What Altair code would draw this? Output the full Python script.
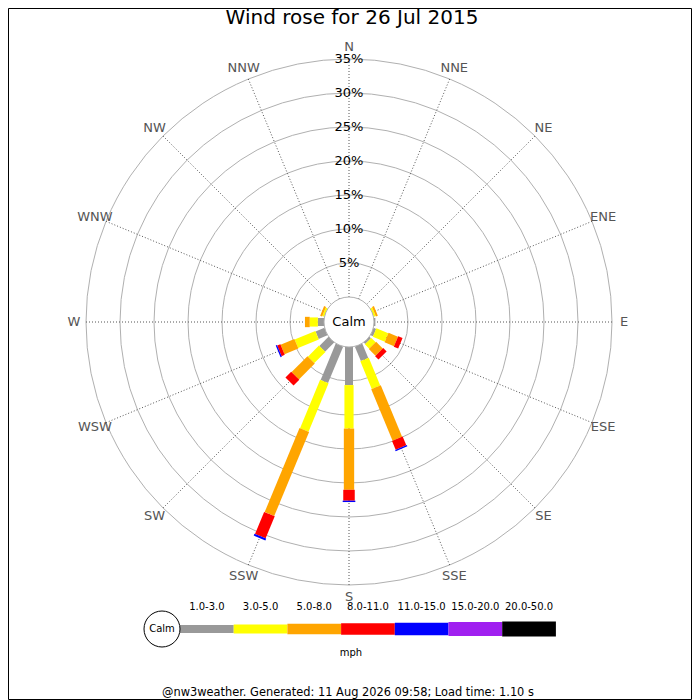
import math
import altair as alt
import pandas as pd

directions = ["N", "NNE", "NE", "ENE", "E", "ESE", "SE", "SSE",
              "S", "SSW", "SW", "WSW", "W", "WNW", "NW", "NNW"]
speed_bins = ["1.0-3.0", "3.0-5.0", "5.0-8.0", "8.0-11.0",
              "11.0-15.0", "15.0-20.0", "20.0-50.0"]

# % of the day in each direction, one list per speed bin (mph)
pct_1_3 = [0, 0, 0, 0, 0.2, 0.4, 0.3, 2.3, 5.6, 5.8, 1.9, 1.4, 0.9, 0, 0, 0]
pct_3_5 = [0, 0, 0, 0.3, 0, 1.9, 0.9, 4.4, 6.4, 7.7, 2.3, 3.3, 1.2, 0.3, 0, 0]
pct_5_8 = [0, 0, 0, 0.3, 0, 1.5, 1.4, 8.2, 9.0, 13.4, 3.3, 2.2, 0.7, 0.3, 0, 0]
pct_8_11 = [0, 0, 0, 0, 0, 0.7, 0.7, 1.4, 1.6, 3.5, 1.2, 0.5, 0, 0, 0, 0]
pct_11_15 = [0, 0, 0, 0, 0, 0, 0, 0.2, 0.2, 0.3, 0, 0.2, 0, 0, 0, 0]
pct_15_20 = [0, 0, 0, 0, 0, 0, 0, 0, 0, 0, 0, 0, 0, 0, 0, 0]
pct_20_50 = [0, 0, 0, 0, 0, 0, 0, 0, 0, 0, 0, 0, 0, 0, 0, 0]

ring_pcts = [5, 10, 15, 20, 25, 30, 35]

title_text = "Wind rose for 26 Jul 2015"
footer_text = "@nw3weather. Generated: 11 Aug 2026 09:58; Load time: 1.10 s"

bin_colors = ["#999999", "#ffff00", "#ffa500", "#ff0000",
              "#0000ff", "#a020f0", "#000000"]
bin_widths = [8, 15, 20, 23, 26, 27, 29]

PX = 6.8            # pixels per percent
CALM = 25 / PX      # calm circle radius, in percent units
PAD_TOP = 4
W, H = 682, 620     # plot area, centred on the rose
FONT = "DejaVu Sans"
LAB_R = 275 / PX


def ux(px):
    return (px - W / 2) / PX


def uy(py):
    return (H / 2 - py) / PX


series = [pct_1_3, pct_3_5, pct_5_8, pct_8_11, pct_11_15, pct_15_20, pct_20_50]
rows = []
for i, d in enumerate(directions):
    cum = 0.0
    for b, s in zip(speed_bins, series):
        if s[i] > 0:
            rows.append({"dir": d, "idx": i, "bin": b, "start": cum, "end": cum + s[i]})
            cum += s[i]
segs = pd.DataFrame(rows)
dirs_df = pd.DataFrame({"dir": directions, "idx": list(range(len(directions)))})
rings_df = pd.DataFrame({"pct": ring_pcts, "label": [f"{p}%" for p in ring_pcts]})
legend_df = pd.DataFrame({"bin": speed_bins, "i": list(range(len(speed_bins)))})

xs = alt.Scale(domain=[-W / 2 / PX, W / 2 / PX], nice=False, zero=False)
ys = alt.Scale(domain=[-H / 2 / PX, H / 2 / PX], nice=False, zero=False)
rs = alt.Scale(type="linear", domain=[0, 50], range=[0, 50 * PX], zero=True, nice=False)
color_scale = alt.Scale(domain=speed_bins, range=bin_colors)
width_scale = alt.Scale(domain=speed_bins, range=bin_widths)

# grid rings
rings = alt.Chart(rings_df).transform_calculate(
    r=f"{CALM} + datum.pct"
).mark_arc(theta=0, theta2=2 * math.pi, fillOpacity=0, stroke="#b0b0b0", strokeWidth=1).encode(
    radius=alt.Radius("r:Q", scale=rs, stack=None)
)

# dotted spokes
spokes = alt.Chart(dirs_df).transform_calculate(
    a="datum.idx * PI / 8"
).transform_calculate(
    x0=f"{CALM} * sin(datum.a)", y0=f"{CALM} * cos(datum.a)",
    x1=f"{CALM + ring_pcts[-1]} * sin(datum.a)", y1=f"{CALM + ring_pcts[-1]} * cos(datum.a)",
).mark_rule(color="#555555", strokeDash=[1, 2], strokeWidth=1).encode(
    x=alt.X("x0:Q", scale=xs, axis=None),
    y=alt.Y("y0:Q", scale=ys, axis=None),
    x2="x1:Q", y2="y1:Q",
)

dir_labels = alt.Chart(dirs_df).transform_calculate(
    a="datum.idx * PI / 8"
).transform_calculate(
    lx=f"{LAB_R} * sin(datum.a)", ly=f"{LAB_R} * cos(datum.a)"
).mark_text(font=FONT, fontSize=13, color="#555555", align="center", baseline="middle").encode(
    x=alt.X("lx:Q", scale=xs, axis=None),
    y=alt.Y("ly:Q", scale=ys, axis=None),
    text="dir:N",
)

# stacked speed bars, drawn as thick rules
bars = alt.Chart(segs).transform_calculate(
    a="datum.idx * PI / 8"
).transform_calculate(
    x0=f"({CALM} + datum.start) * sin(datum.a)",
    y0=f"({CALM} + datum.start) * cos(datum.a)",
    x1=f"({CALM} + datum.end) * sin(datum.a)",
    y1=f"({CALM} + datum.end) * cos(datum.a)",
).mark_rule(strokeCap="butt").encode(
    x=alt.X("x0:Q", scale=xs, axis=None),
    y=alt.Y("y0:Q", scale=ys, axis=None),
    x2="x1:Q", y2="y1:Q",
    color=alt.Color("bin:N", scale=color_scale, legend=None),
    strokeWidth=alt.StrokeWidth("bin:O", scale=width_scale, legend=None),
)

calm = alt.Chart(pd.DataFrame({"r": [CALM], "t": ["Calm"], "x": [0], "y": [0]}))
calm_circle = calm.mark_arc(theta=0, theta2=2 * math.pi, fill="white", stroke="#b0b0b0", strokeWidth=1).encode(
    radius=alt.Radius("r:Q", scale=rs, stack=None)
)
calm_text = calm.mark_text(font=FONT, fontSize=13, color="black").encode(
    x=alt.X("x:Q", scale=xs, axis=None), y=alt.Y("y:Q", scale=ys, axis=None), text="t:N"
)

pct_labels = alt.Chart(rings_df).transform_calculate(
    x="0", y=f"{CALM} + datum.pct"
).mark_text(font=FONT, fontSize=13, color="black", baseline="middle").encode(
    x=alt.X("x:Q", scale=xs, axis=None),
    y=alt.Y("y:Q", scale=ys, axis=None),
    text="label:N",
)

# legend strip under the rose (page pixels -> plot pixels: x-8, y-12)
LEG_X0, LEG_W, LEG_Y = 172, 53.7, 617
leg_base = alt.Chart(legend_df).transform_calculate(
    lx0=f"({LEG_X0} + datum.i * {LEG_W} - {W / 2}) / {PX}",
    lx1=f"({LEG_X0} + (datum.i + 1) * {LEG_W} - {W / 2}) / {PX}",
    lxm=f"({LEG_X0} + (datum.i + 0.5) * {LEG_W} - {W / 2}) / {PX}",
    ly=f"{uy(LEG_Y)}",
    lty=f"{uy(LEG_Y - 22)}",
)
leg_bars = leg_base.mark_rule(strokeCap="butt").encode(
    x=alt.X("lx0:Q", scale=xs, axis=None),
    y=alt.Y("ly:Q", scale=ys, axis=None),
    x2="lx1:Q", y2="ly:Q",
    color=alt.Color("bin:N", scale=color_scale, legend=None),
    strokeWidth=alt.StrokeWidth("bin:O", scale=width_scale, legend=None),
)
leg_text = leg_base.mark_text(font=FONT, fontSize=10, color="black", baseline="middle").encode(
    x=alt.X("lxm:Q", scale=xs, axis=None),
    y=alt.Y("lty:Q", scale=ys, axis=None),
    text="bin:N",
)
leg_calm_df = pd.DataFrame({"x": [ux(154)], "y": [uy(LEG_Y)], "t": ["Calm"]})
leg_calm = alt.Chart(leg_calm_df).mark_point(
    shape="circle", size=36 * 36, filled=True, fill="white", stroke="black", strokeWidth=1, opacity=1
).encode(x=alt.X("x:Q", scale=xs, axis=None), y=alt.Y("y:Q", scale=ys, axis=None))
leg_calm_text = alt.Chart(leg_calm_df).mark_text(font=FONT, fontSize=10, color="black").encode(
    x=alt.X("x:Q", scale=xs, axis=None), y=alt.Y("y:Q", scale=ys, axis=None), text="t:N"
)

texts = pd.DataFrame({"t": [title_text, "mph", footer_text]})
title = alt.Chart(texts).transform_filter(alt.datum.t == title_text).mark_text(
    font=FONT, fontSize=20, color="black", x=W / 2 + 3, y=12, baseline="alphabetic"
).encode(text="t:N")
mph = alt.Chart(texts).transform_filter(alt.datum.t == "mph").mark_text(
    font=FONT, fontSize=10, color="black", x=343, y=641, baseline="middle"
).encode(text="t:N")
footer = alt.Chart(texts).transform_filter(alt.datum.t == footer_text).mark_text(
    font=FONT, fontSize=11.4, color="black", x=340, y=681, baseline="middle"
).encode(text="t:N")

frame = alt.Chart(pd.DataFrame({"a": [0]})).mark_rect(
    fillOpacity=0, stroke="black", strokeWidth=1
).encode(x=alt.value(0.5), x2=alt.value(683.5), y=alt.value(-3.5), y2=alt.value(687.5))

chart = alt.layer(
    rings, spokes, bars, calm_circle, calm_text, pct_labels, dir_labels,
    leg_bars, leg_text, leg_calm, leg_calm_text, title, mph, footer, frame
).properties(
    width=W, height=H,
    autosize=alt.AutoSizeParams(type="none"),
    padding={"left": 0, "top": PAD_TOP, "right": 2, "bottom": 68},
).configure_view(stroke=None)

chart.save("out.html", embed_options={"renderer": "svg", "actions": False})
